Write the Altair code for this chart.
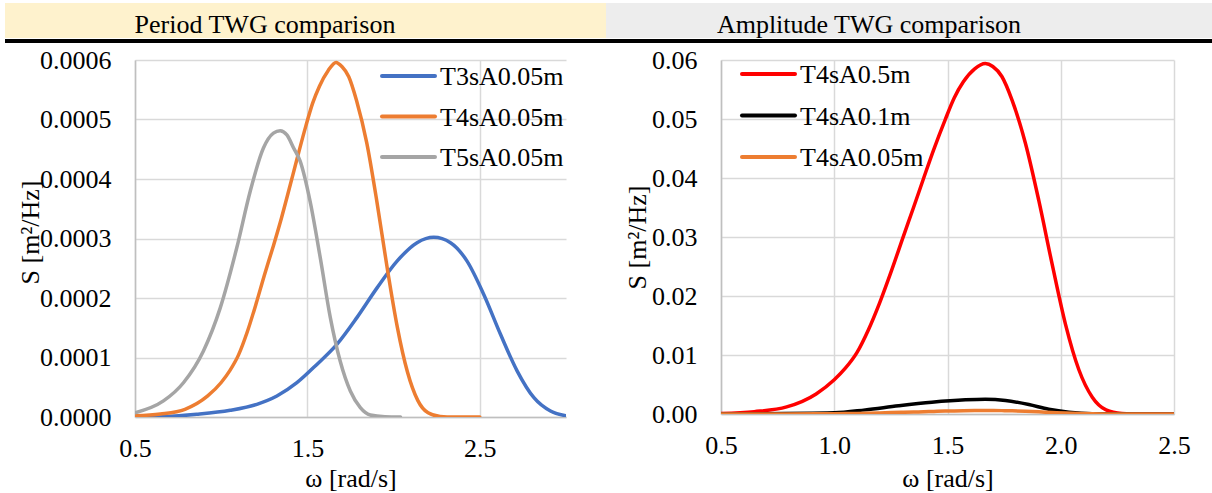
import altair as alt
import pandas as pd

# ---------------- data ----------------
# Left panel: Period TWG comparison
omega_T3 = [0.55, 0.665, 0.858, 1.052, 1.207, 1.323, 1.439, 1.555, 1.671, 1.787,
            1.904, 2.02, 2.136, 2.233, 2.33, 2.426, 2.523, 2.62, 2.717, 2.814, 2.91, 3.0]
S_T3 = [0.0, 0.0000006, 0.0000045, 0.0000112, 0.0000213, 0.0000352, 0.0000576,
        0.0000884, 0.000122, 0.000167, 0.000217, 0.000262, 0.000293, 0.000302,
        0.000293, 0.000262, 0.000206, 0.000139, 0.0000772, 0.0000324, 0.00001, 0.000002]

omega_T4 = [0.5, 0.647, 0.79, 0.92, 1.0, 1.05, 1.1, 1.15, 1.2, 1.25, 1.303, 1.35, 1.395,
            1.44, 1.49, 1.53, 1.57, 1.62, 1.666, 1.70, 1.74, 1.785, 1.844, 1.903, 1.962,
            2.021, 2.08, 2.14, 2.2, 2.27, 2.35, 2.5]
S_T4 = [0.000002, 0.000005, 0.000013, 0.000035, 0.000058, 0.000078, 0.000104, 0.000142,
        0.000188, 0.000238, 0.000288, 0.000335, 0.000384, 0.000434, 0.000488, 0.000527,
        0.000556, 0.000582, 0.000596, 0.000589, 0.000572, 0.000532, 0.000461, 0.000362,
        0.000252, 0.000152, 0.000076, 0.000028, 0.000007, 0.000001, 0.0, 0.0]

omega_T5 = [0.5, 0.665, 0.781, 0.897, 0.994, 1.09, 1.168, 1.245, 1.303, 1.342, 1.381,
            1.42, 1.458, 1.516, 1.575, 1.633, 1.69, 1.749, 1.807, 1.865, 1.95, 2.04]
S_T5 = [0.000007, 0.000027, 0.0000576, 0.000111, 0.000183, 0.000284, 0.000379,
        0.000452, 0.000477, 0.000481, 0.000474, 0.000452, 0.00043, 0.000362, 0.000267,
        0.000167, 0.000094, 0.0000436, 0.0000157, 0.0000034, 0.0000005, 0.0]

# Right panel: Amplitude TWG comparison
omega_A05 = [0.5, 0.647, 0.79, 0.92, 1.0, 1.05, 1.1, 1.15, 1.2, 1.25, 1.306, 1.35, 1.395,
             1.44, 1.49, 1.53, 1.57, 1.62, 1.667, 1.70, 1.74, 1.785, 1.844, 1.903, 1.962,
             2.021, 2.08, 2.14, 2.2, 2.27, 2.35, 2.5]
S_A05 = [0.0001, 0.0004, 0.0012, 0.0034, 0.0058, 0.0078, 0.0104, 0.0142, 0.0188, 0.024,
         0.0302, 0.035, 0.04, 0.0449, 0.0499, 0.0536, 0.0563, 0.0585, 0.0594, 0.0589,
         0.0572, 0.0532, 0.0459, 0.0362, 0.0254, 0.0152, 0.0075, 0.0028, 0.0007, 0.0001,
         0.0, 0.0]

omega_A01 = [0.5, 1.0, 1.137, 1.284, 1.431, 1.579, 1.667, 1.756, 1.859, 1.947, 2.036, 2.139, 2.5]
S_A01 = [0.0, 0.0002, 0.0007, 0.0014, 0.002, 0.0024, 0.0025, 0.0023, 0.0016, 0.0008,
         0.0003, 0.00005, 0.0]

left_names = ["T3sA0.05m", "T4sA0.05m", "T5sA0.05m"]
left_colors = ["#4472C4", "#ED7D31", "#A5A5A5"]
right_names = ["T4sA0.5m", "T4sA0.1m", "T4sA0.05m"]
right_colors = ["#FF0000", "#000000", "#ED7D31"]

left_x_ticks = [0.5, 1.5, 2.5]
left_y_ticks = [0.0, 0.0001, 0.0002, 0.0003, 0.0004, 0.0005, 0.0006]
right_x_ticks = [0.5, 1.0, 1.5, 2.0, 2.5]
right_y_ticks = [0.0, 0.01, 0.02, 0.03, 0.04, 0.05, 0.06]

FONT = '"Liberation Serif", "Times New Roman", Times, "DejaVu Serif", serif'
FS = 26
one = pd.DataFrame({"k": [0]})


def frame(w, s):
    return pd.DataFrame({"omega": w, "S": s})


def panel(series, colors, names, xdom, xticks, ydom, yticks, yfmt, W, H,
          band_color, band_x, title, title_x, ytitle_x, ytitle_y, xtitle_y,
          leg_x, leg_y0, leg_dy):
    x_enc = alt.X("omega:Q",
                  scale=alt.Scale(domain=xdom, nice=False, zero=False),
                  axis=alt.Axis(values=xticks, format=".1f", title="ω [rad/s]",
                                titleY=xtitle_y, titleBaseline="alphabetic",
                                labelPadding=18, labelFlush=False))
    y_enc = alt.Y("S:Q",
                  scale=alt.Scale(domain=ydom, nice=False),
                  axis=alt.Axis(values=yticks, format=yfmt, title="S [m²/Hz]",
                                titleX=ytitle_x, titleY=ytitle_y, titleAngle=-90,
                                titleBaseline="alphabetic", titleAlign="center",
                                labelPadding=24, labelFlush=False))
    layers = []
    # header band
    layers.append(alt.Chart(one).mark_rect(color=band_color).encode(
        x=alt.value(band_x[0]), x2=alt.value(band_x[1]),
        y=alt.value(-57), y2=alt.value(-22)))
    layers.append(alt.Chart(one).mark_rect(color="#000000").encode(
        x=alt.value(band_x[0]), x2=alt.value(band_x[1]),
        y=alt.value(-21), y2=alt.value(-17)))
    layers.append(alt.Chart(one).mark_text(
        text=title, font=FONT, fontSize=FS, align="center",
        baseline="alphabetic", color="#000000").encode(
        x=alt.value(title_x), y=alt.value(-27)))
    # data lines
    for df, c in zip(series, colors):
        layers.append(alt.Chart(df).mark_line(
            color=c, strokeWidth=3.5, interpolate="monotone",
            strokeCap="round", strokeJoin="round", clip=True).encode(x=x_enc, y=y_enc))
    # legend
    for i, (n, c) in enumerate(zip(names, colors)):
        yy = leg_y0 + leg_dy * i
        layers.append(alt.Chart(one).mark_rule(
            color=c, strokeWidth=4, strokeCap="round").encode(
            x=alt.value(leg_x), x2=alt.value(leg_x + 53), y=alt.value(yy)))
        layers.append(alt.Chart(one).mark_text(
            text=n, font=FONT, fontSize=FS, align="left", baseline="middle",
            color="#000000").encode(x=alt.value(leg_x + 58), y=alt.value(yy + 1)))
    return alt.layer(*layers).properties(width=W, height=H)


left = panel(
    [frame(omega_T3, S_T3), frame(omega_T4, S_T4), frame(omega_T5, S_T5)],
    left_colors, left_names, [0.5, 3.0], left_x_ticks, [0, 0.0006], left_y_ticks, ".4f",
    431, 357, "#FEF2CD", (-130, 471), "Period TWG comparison", 130,
    -97, 172, 69, 247, 16, 40.5)

right = panel(
    [frame(omega_A05, S_A05), frame(omega_A01, S_A01), frame(omega_T4, S_T4)],
    right_colors, right_names, [0.5, 2.5], right_x_ticks, [0, 0.06], right_y_ticks, ".2f",
    453, 354, "#EDEDED", (-115, 491), "Amplitude TWG comparison", 148,
    -76, 177, 72, 21, 14, 41.5)

chart = alt.hconcat(left, right, spacing=0).resolve_scale(
    x="independent", y="independent").properties(
    padding={"left": 5, "top": 3, "right": 0, "bottom": 0},
    background="#FFFFFF"
).configure(font=FONT).configure_text(font=FONT).configure_view(
    strokeWidth=0).configure_axis(
    labelFont=FONT, labelFontSize=FS, labelColor="#000000",
    titleFont=FONT, titleFontSize=FS, titleFontWeight="normal", titleColor="#000000",
    domainColor="#BFBFBF", domainWidth=1.5, gridColor="#D9D9D9", gridWidth=1.5,
    ticks=False
)

chart.save("out.html", embed_options={"renderer": "svg", "actions": False})
